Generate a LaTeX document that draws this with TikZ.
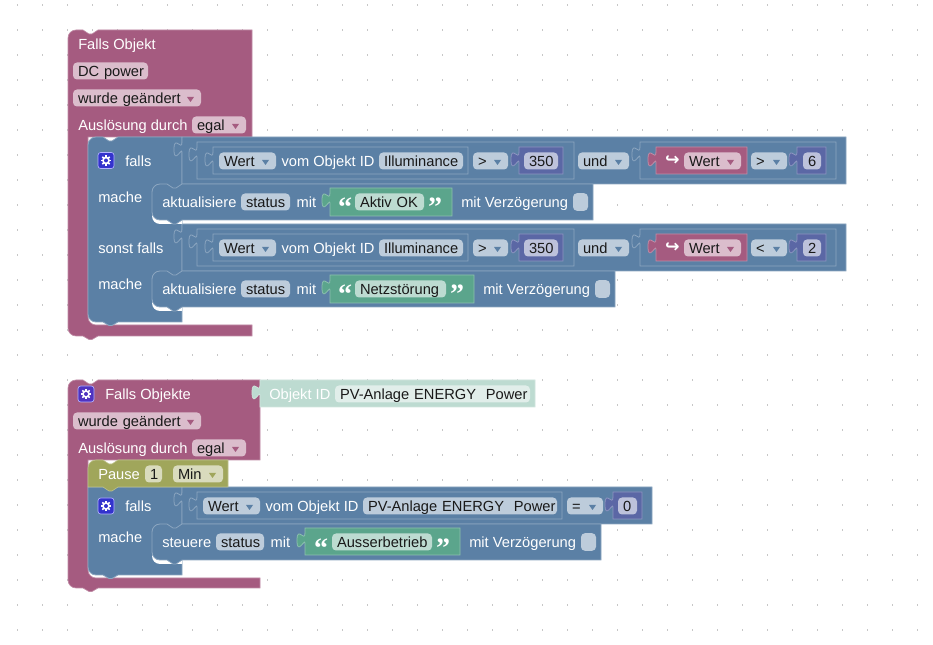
\documentclass[tikz,border=0pt]{standalone}
\usepackage{fontspec}
\setmainfont{Liberation Sans}
\newfontfamily\quotefont{Liberation Serif}
\newfontfamily\symbolfont{DejaVu Sans}
\usepackage{tikz}
\usetikzlibrary{positioning}
\definecolor{purpleblock}{HTML}{A55B80}
\definecolor{purpleline}{HTML}{C08CA6}
\definecolor{purplefield}{HTML}{DBBDCC}
\definecolor{blueblock}{HTML}{5B80A5}
\definecolor{blueline}{HTML}{8CA6C0}
\definecolor{bluefield}{HTML}{BDCCDB}
\definecolor{greenblock}{HTML}{5BA58C}
\definecolor{greenline}{HTML}{8CC0AE}
\definecolor{greenfield}{HTML}{BDDBD1}
\definecolor{mathblock}{HTML}{5B67A5}
\definecolor{mathline}{HTML}{8C95C0}
\definecolor{mathfield}{HTML}{BDC2DB}
\definecolor{oliveblock}{HTML}{A0A65B}
\definecolor{olivefield}{HTML}{D9DBBD}
\definecolor{idblock}{HTML}{BDDBD1}
\definecolor{idfield}{HTML}{E1EEEA}
\definecolor{iconblue}{HTML}{3333CC}
\definecolor{iconviolet}{HTML}{5033C0}
\tikzset{
    purplepath/.style = {fill=purpleblock, draw=purpleline, line width=.5pt},
    bluepath/.style = {fill=blueblock, draw=blueline, line width=.6pt},
    greenpath/.style = {fill=greenblock, draw=greenline, line width=.6pt},
    mathpath/.style = {fill=mathblock, draw=mathline, line width=.6pt},
    olivepath/.style = {fill=oliveblock, draw=oliveblock!70!white, line width=.5pt},
    idpath/.style = {fill=idblock, draw=idblock!70!white, line width=.5pt},
    varpath/.style = {fill=purpleblock, draw=purpleline, line width=.6pt},
    textbase/.style = {
       font=\fontsize{11}{13}\selectfont,
       text height=10pt,
       text depth=2.2pt,
    },
    lbl/.style = {textbase, text=white, inner sep=0pt, anchor=west},
    field/.style = {
       textbase,
       shape=rectangle,
       rounded corners=3pt,
       align=left,
       text=black!90,
       inner xsep=3.75pt,
       inner ysep=0pt,
       minimum height=12.75pt,
    },
    purplepill/.style = {field, fill=purplefield},
    bluepill/.style = {field, fill=bluefield},
    greenpill/.style = {field, fill=greenfield},
    mathpill/.style = {field, fill=mathfield},
    olivepill/.style = {field, fill=olivefield},
    idpill/.style = {field, fill=idfield},
    checkfield/.style = {
       shape=rectangle,
       rounded corners=3pt,
       fill=bluefield,
       minimum width=11.25pt,
       minimum height=13.25pt,
       inner sep=0pt,
    },
    quotemark/.style = {
       font=\quotefont\fontsize{21}{21}\selectfont\bfseries,
       text=white,
       inner sep=0pt,
       anchor=base,
    },
    gearbox/.style = {
       shape=rectangle,
       rounded corners=2pt,
       draw=white!70!blue,
       line width=.5pt,
       minimum size=12pt,
       inner sep=0pt,
    }
}
% field with fixed left and right edge: style, name, x1, x2, y, text
\newcommand{\pill}[6]{%
   \pgfmathsetmacro\pillw{(#4-#3-10)*.75}%
   \node[#1, text width=\pillw pt] (#2) at ({(#3+#4)/2},#5) {\mbox{#6}};%
}
% small dropdown triangle: colour, right edge of field, y
\newcommand{\caret}[3]{%
   \fill[#1] ({#2-14},{#3-1}) -- ({#2-7},{#3-1}) -- ({#2-10.5},{#3+4}) -- cycle;%
}
% value block with puzzle tab: style, x1, y1, x2, y2
\newcommand{\valblock}[5]{%
   \draw[#1] (#2,#3) -- (#2,{#3+5})
      .. controls (#2,{#3+15}) and ({#2-8},{#3-3}) .. ({#2-8},{#3+12.5})
      .. controls ({#2-8},{#3+28}) and (#2,{#3+10}) .. (#2,{#3+15})
      -- (#2,#5) -- (#4,#5) -- (#4,#3) -- cycle;%
}
% inner statement block with the white gap below it: x2, top, bottom
\newcommand{\stmtblock}[3]{%
   \fill[white] (152,{#3-8}) [rounded corners=6pt] -- (152,{#3+4}) [sharp corners] -- (182,{#3+4}) -- (182,{#3-8}) -- cycle;
   \draw[bluepath] (152,{#2+8}) [rounded corners=6pt] -- (152,#2) [sharp corners] -- (167,#2)
      -- (173,{#2+4}) -- (176,{#2+4}) -- (182,#2) -- (#1,#2) -- (#1,#3) -- (182,#3)
      -- (176,{#3+4}) -- (173,{#3+4}) -- (167,#3) [rounded corners=6pt] -- (152,#3) [sharp corners] -- (152,{#2+8}) -- cycle;%
}
% settings icon: name, x, y, colour
\newcommand{\gear}[4]{%
   \node[gearbox, fill=#4] (#1) at (#2,#3) {};
   \foreach \a in {0,45,...,315} \draw[white, line width=1.1pt] (#1.center) -- ++(\a:5.2);
   \fill[white] (#1.center) circle (3.9);
   \fill[#4] (#1.center) circle (2);%
}
% condition row of the first program: y offset, name suffix, operator, number
\newcommand{\condrow}[4]{%
   \pgfmathsetmacro\ya{137+#1}\pgfmathsetmacro\yb{184+#1}%
   \pgfmathsetmacro\yc{142+#1}\pgfmathsetmacro\yd{179+#1}%
   \pgfmathsetmacro\ye{147+#1}\pgfmathsetmacro\yf{174+#1}%
   \pgfmathsetmacro\ym{161+#1}%
   \valblock{bluepath}{182}{\ya}{846}{\yb}
   \valblock{bluepath}{197}{\yc}{574}{\yd}
   \valblock{bluepath}{213}{\ye}{468}{\yf}
   \pill{bluepill}{Wert#2}{219}{276}{\ym}{Wert}
   \caret{blueblock}{276}{\ym}
   \node[lbl] (Objekt#2) [right=3.75pt of Wert#2] {vom Objekt ID};
   \pill{bluepill}{Illuminance#2}{379}{463}{\ym}{Illuminance}
   \pill{bluepill}{Op#2}{473}{508}{\ym}{>}
   \caret{blueblock}{508}{\ym}
   \valblock{mathpath}{519}{\ye}{563}{\yf}
   \pill{mathpill}{Limit#2}{524}{558}{\ym}{350}
   \pill{bluepill}{Und#2}{578}{629}{\ym}{und}
   \caret{blueblock}{629}{\ym}
   \valblock{bluepath}{640}{\yc}{836}{\yd}
   \valblock{varpath}{656}{\ye}{747}{\yf}
   \node[text=white, inner sep=0pt, font=\symbolfont\fontsize{13}{13}\selectfont\bfseries] (Hook#2) at (672.5,\ym) {↪};
   \pill{purplepill}{Var#2}{684}{741}{\ym}{Wert}
   \caret{purpleblock}{741}{\ym}
   \pill{bluepill}{Rel#2}{751}{787}{\ym}{#3}
   \caret{blueblock}{787}{\ym}
   \valblock{mathpath}{797}{\ye}{826}{\yf}
   \pill{mathpill}{Num#2}{803}{821}{\ym}{#4}%
}
\begin{document}
\begin{tikzpicture}[x=.75pt,y=-.75pt]
   \useasboundingbox (0,0) rectangle (933,645);
   \fill[white] (0,0) rectangle (933,645);
   \foreach \x in {17,42,...,917} \foreach \y in {5,30,...,630}
      \fill[black!22] ({\x-.5},{\y-1}) rectangle ({\x+.5},{\y+1});

   % first program
   \draw[purplepath] (68,40) [rounded corners=6pt] -- (68,30) [sharp corners] -- (83,30)
      -- (89,34) -- (92,34) -- (98,30) -- (252,30) -- (252,137) -- (88,137)
      [rounded corners=6pt] -- (88,325) [sharp corners] -- (252,325) -- (252,336) -- (98,336)
      -- (92,339.5) -- (89,339.5) -- (83,336) [rounded corners=6pt] -- (68,336) [sharp corners] -- (68,40) -- cycle;
   \node[lbl] (FallsObjekt) at (78,44) {Falls Objekt};
   \pill{purplepill}{DCPower}{73}{148}{71}{DC power}
   \pill{purplepill}{Geaendert}{73}{201}{98}{wurde geändert}
   \caret{purpleblock}{201}{98}
   \node[lbl] (Ausloesung) at (78,125) {Auslösung durch};
   \pill{purplepill}{Egal}{192}{246}{125}{egal}
   \caret{purpleblock}{246}{125}

   \draw[bluepath] (88,150) [rounded corners=6pt] -- (88,137) [sharp corners] -- (103,137)
      -- (109,141) -- (112,141) -- (118,137) -- (182,137) -- (182,322) -- (118,322)
      -- (112,325.5) -- (109,325.5)
      -- (103,322) [rounded corners=6pt] -- (88,322) [sharp corners] -- (88,150) -- cycle;
   \condrow{0}{A}{>}{6}
   \condrow{87}{B}{<}{2}
   \gear{GearFalls}{106}{160.5}{iconblue}
   \node[lbl] (Falls) at (125,161) {falls};
   \node[lbl] (MacheA) at (98,197) {mache};
   \node[lbl] (SonstFalls) at (98,248) {sonst falls};
   \node[lbl] (MacheB) at (98,284) {mache};

   \stmtblock{593}{184}{220}
   \node[lbl] (AktualisiereA) at (162,202) {aktualisiere};
   \pill{bluepill}{StatusA}{241}{290}{202}{status}
   \node[lbl] (MitA) [right=4.5pt of StatusA] {mit};
   \valblock{greenpath}{330}{188}{452}{216}
   \node[quotemark] (OpenA) at (345,217) {“};
   \pill{greenpill}{AktivOK}{355}{424}{202}{Aktiv OK}
   \node[quotemark] (CloseA) at (435,217) {”};
   \node[lbl] (VerzA) at (461,202) {mit Verzögerung};
   \node[checkfield] (CheckA) at (580.5,202) {};

   \stmtblock{615}{271}{307}
   \node[lbl] (AktualisiereB) at (162,289) {aktualisiere};
   \pill{bluepill}{StatusB}{241}{290}{289}{status}
   \node[lbl] (MitB) [right=4.5pt of StatusB] {mit};
   \valblock{greenpath}{330}{275}{474}{303}
   \node[quotemark] (OpenB) at (345,304) {“};
   \pill{greenpill}{Netz}{355}{446}{289}{Netzstörung}
   \node[quotemark] (CloseB) at (457,304) {”};
   \node[lbl] (VerzB) at (483,289) {mit Verzögerung};
   \node[checkfield] (CheckB) at (602.5,289) {};

   % second program
   \draw[purplepath] (68,390) [rounded corners=6pt] -- (68,380) [sharp corners] -- (83,380)
      -- (89,384) -- (92,384) -- (98,380) -- (260,380) -- (260,460) -- (88,460)
      [rounded corners=6pt] -- (88,578) [sharp corners] -- (260,578) -- (260,588) -- (98,588)
      -- (92,591.5) -- (89,591.5) -- (83,588) [rounded corners=6pt] -- (68,588) [sharp corners] -- (68,390) -- cycle;
   \gear{GearObjekte}{86}{394}{iconviolet}
   \node[lbl] (FallsObjekte) at (105,394) {Falls Objekte};
   \valblock{idpath}{260}{380}{535}{407}
   \node[lbl] (ObjektID) at (269,394) {Objekt ID};
   \pill{idpill}{PVAnlage}{335}{530}{394}{PV-Anlage ENERGY\ \ Power}
   \pill{purplepill}{GeaendertB}{73}{201}{421}{wurde geändert}
   \caret{purpleblock}{201}{421}
   \node[lbl] (AusloesungB) at (78,448) {Auslösung durch};
   \pill{purplepill}{EgalB}{192}{246}{448}{egal}
   \caret{purpleblock}{246}{448}

   \draw[bluepath] (88,500) -- (88,487) -- (182,487) -- (182,575) -- (118,575) -- (112,578.5) -- (109,578.5)
      -- (103,575) [rounded corners=6pt] -- (88,575) [sharp corners] -- (88,500) -- cycle;
   \valblock{bluepath}{182}{487}{652}{524}
   \valblock{bluepath}{197}{492}{562}{519}
   \pill{bluepill}{WertC}{203}{260}{506}{Wert}
   \caret{blueblock}{260}{506}
   \node[lbl] (ObjektC) [right=3.75pt of WertC] {vom Objekt ID};
   \pill{bluepill}{PVAnlageC}{363}{557}{506}{PV-Anlage ENERGY\ \ Power}
   \pill{bluepill}{OpC}{567}{603}{506}{=}
   \caret{blueblock}{603}{506}
   \valblock{mathpath}{613}{492}{642}{519}
   \pill{mathpill}{NumC}{618}{637}{506}{0}
   \gear{GearFallsC}{106}{506}{iconblue}
   \node[lbl] (FallsC) at (125,506) {falls};
   \node[lbl] (MacheC) at (98,537) {mache};

   \stmtblock{601}{524}{560}
   \node[lbl] (Steuere) at (162,542) {steuere};
   \pill{bluepill}{StatusC}{216}{264}{542}{status}
   \node[lbl] (MitC) [right=4.5pt of StatusC] {mit};
   \valblock{greenpath}{305}{528}{460}{555}
   \node[quotemark] (OpenC) at (321,557) {“};
   \pill{greenpill}{Ausser}{332}{432}{542}{Ausserbetrieb}
   \node[quotemark] (CloseC) at (443,557) {”};
   \node[lbl] (VerzC) at (469,542) {mit Verzögerung};
   \node[checkfield] (CheckC) at (588.5,542) {};

   \draw[olivepath] (88,470) [rounded corners=6pt] -- (88,460) [sharp corners] -- (103,460)
      -- (109,464) -- (112,464) -- (118,460) -- (228,460) -- (228,487) -- (118,487)
      -- (112,491) -- (109,491) -- (103,487) -- (88,487) -- cycle;
   \node[lbl] (Pause) at (98,474) {Pause};
   \pill{olivepill}{One}{145}{162}{474}{1}
   \pill{olivepill}{Min}{173}{223}{474}{Min}
   \caret{oliveblock}{223}{474}
\end{tikzpicture}
\end{document}
